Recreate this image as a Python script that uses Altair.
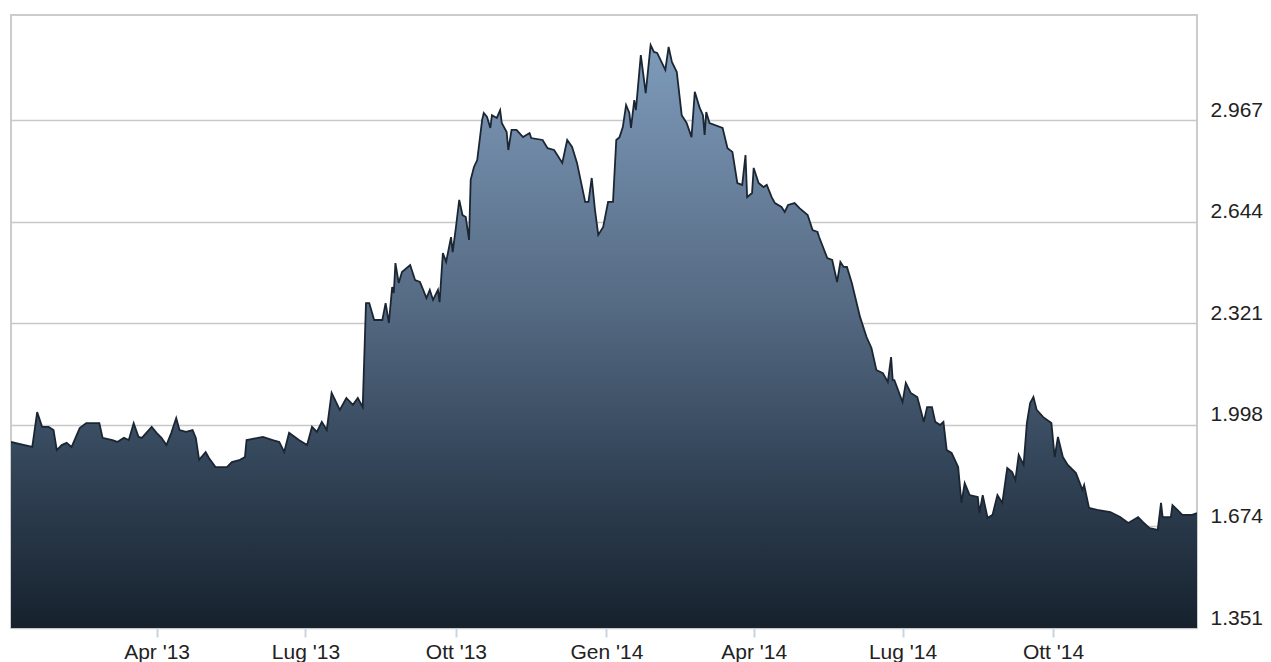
import altair as alt
import pandas as pd

dates = [
    "2013-01-02", "2013-01-07", "2013-01-15", "2013-01-18", "2013-01-21", "2013-01-25", "2013-01-28", "2013-01-30",
    "2013-02-02", "2013-02-05", "2013-02-08", "2013-02-13", "2013-02-17", "2013-02-25", "2013-02-27",
    "2013-03-05", "2013-03-08", "2013-03-12", "2013-03-15", "2013-03-18", "2013-03-21", "2013-03-23", "2013-03-29",
    "2013-04-01", "2013-04-04", "2013-04-07", "2013-04-10", "2013-04-13", "2013-04-15", "2013-04-19", "2013-04-23",
    "2013-04-25", "2013-04-27", "2013-05-01", "2013-05-03", "2013-05-07", "2013-05-14", "2013-05-17", "2013-05-22",
    "2013-05-25", "2013-05-26", "2013-05-29", "2013-06-05", "2013-06-11", "2013-06-15", "2013-06-18", "2013-06-21",
    "2013-06-27", "2013-07-02", "2013-07-05", "2013-07-08", "2013-07-11", "2013-07-14", "2013-07-17", "2013-07-22",
    "2013-07-26", "2013-07-30", "2013-08-02", "2013-08-05", "2013-08-07", "2013-08-09", "2013-08-12", "2013-08-17",
    "2013-08-19", "2013-08-21", "2013-08-23", "2013-08-24", "2013-08-25", "2013-08-27", "2013-08-29", "2013-09-03",
    "2013-09-06", "2013-09-09", "2013-09-13", "2013-09-15", "2013-09-17", "2013-09-20", "2013-09-21", "2013-09-23",
    "2013-09-25", "2013-09-28", "2013-09-29", "2013-10-01", "2013-10-03", "2013-10-05", "2013-10-07", "2013-10-09",
    "2013-10-10", "2013-10-12", "2013-10-14", "2013-10-17", "2013-10-18", "2013-10-20", "2013-10-22", "2013-10-23",
    "2013-10-26", "2013-10-28", "2013-10-29", "2013-11-01", "2013-11-02", "2013-11-04", "2013-11-07", "2013-11-11",
    "2013-11-15", "2013-11-16", "2013-11-23", "2013-11-26", "2013-11-30", "2013-12-05", "2013-12-08", "2013-12-11",
    "2013-12-14", "2013-12-19", "2013-12-21", "2013-12-23", "2013-12-25", "2013-12-27", "2013-12-30",
    "2014-01-02", "2014-01-05", "2014-01-07", "2014-01-09", "2014-01-11", "2014-01-13", "2014-01-15", "2014-01-16",
    "2014-01-18", "2014-01-19", "2014-01-22", "2014-01-25", "2014-01-28", "2014-01-30", "2014-02-01", "2014-02-06",
    "2014-02-08", "2014-02-10", "2014-02-13", "2014-02-16", "2014-02-19", "2014-02-22", "2014-02-24", "2014-02-27",
    "2014-03-01", "2014-03-02", "2014-03-03", "2014-03-05", "2014-03-13", "2014-03-16", "2014-03-19", "2014-03-22",
    "2014-03-25", "2014-03-27", "2014-03-28", "2014-03-31", "2014-04-01", "2014-04-04", "2014-04-07", "2014-04-09",
    "2014-04-12", "2014-04-14", "2014-04-18", "2014-04-20", "2014-04-22", "2014-04-26", "2014-04-29", "2014-05-04",
    "2014-05-07", "2014-05-10", "2014-05-11", "2014-05-16", "2014-05-19", "2014-05-22", "2014-05-24", "2014-05-26",
    "2014-05-28", "2014-05-31", "2014-06-05", "2014-06-09", "2014-06-12", "2014-06-15", "2014-06-19", "2014-06-22",
    "2014-06-24", "2014-06-25", "2014-06-26", "2014-07-01", "2014-07-03", "2014-07-06", "2014-07-10", "2014-07-14",
    "2014-07-16", "2014-07-19", "2014-07-21", "2014-07-24", "2014-07-26", "2014-07-28", "2014-07-31", "2014-08-04",
    "2014-08-06", "2014-08-08", "2014-08-11", "2014-08-16", "2014-08-17", "2014-08-19", "2014-08-22", "2014-08-25",
    "2014-08-28", "2014-08-31", "2014-09-03", "2014-09-06", "2014-09-08", "2014-09-10", "2014-09-13", "2014-09-15",
    "2014-09-17", "2014-09-19", "2014-09-21", "2014-09-25", "2014-09-30", "2014-10-02", "2014-10-04", "2014-10-07",
    "2014-10-10", "2014-10-15", "2014-10-19", "2014-10-20", "2014-10-23", "2014-10-28", "2014-11-05", "2014-11-11",
    "2014-11-16", "2014-11-22", "2014-11-25", "2014-11-29", "2014-12-04", "2014-12-06", "2014-12-07", "2014-12-12",
    "2014-12-13", "2014-12-16", "2014-12-19", "2014-12-25", "2014-12-28",
]

values = [
    1.943, 1.937, 1.927, 2.038, 1.991, 1.991, 1.981, 1.917,
    1.933, 1.940, 1.927, 1.987, 2.003, 2.003, 1.956,
    1.949, 1.943, 1.956, 1.949, 2.003, 1.959, 1.956, 1.991,
    1.972, 1.956, 1.933, 1.972, 2.019, 1.981, 1.975, 1.981,
    1.956, 1.886, 1.911, 1.892, 1.863, 1.863, 1.879, 1.886,
    1.895, 1.949, 1.952, 1.959, 1.949, 1.943, 1.911, 1.972,
    1.949, 1.933, 1.991, 1.975, 2.007, 1.981, 2.099, 2.045,
    2.083, 2.061, 2.083, 2.054, 2.385, 2.385, 2.331, 2.331,
    2.385, 2.322, 2.436, 2.417, 2.512, 2.449, 2.484, 2.506,
    2.458, 2.452, 2.401, 2.427, 2.395, 2.427, 2.388, 2.544,
    2.516, 2.595, 2.547, 2.627, 2.713, 2.665, 2.659, 2.586,
    2.777, 2.818, 2.840, 2.968, 2.990, 2.977, 2.942, 2.983,
    2.974, 2.999, 2.958, 2.929, 2.872, 2.936, 2.936, 2.913,
    2.926, 2.910, 2.904, 2.878, 2.872, 2.831, 2.904, 2.882,
    2.831, 2.707, 2.707, 2.783, 2.681, 2.602, 2.627,
    2.707, 2.707, 2.904, 2.913, 2.945, 3.015, 2.990, 2.942,
    3.031, 2.999, 3.174, 3.053, 3.206, 3.184, 3.181, 3.127,
    3.200, 3.152, 3.120, 2.983, 2.958, 2.913, 3.057, 3.006,
    2.983, 2.920, 2.993, 2.958, 2.942, 2.878, 2.866, 2.767,
    2.761, 2.856, 2.722, 2.735, 2.815, 2.767, 2.754, 2.761,
    2.722, 2.703, 2.691, 2.675, 2.697, 2.703, 2.687, 2.665,
    2.617, 2.611, 2.595, 2.528, 2.522, 2.452, 2.516, 2.500,
    2.500, 2.449, 2.341, 2.277, 2.242, 2.172, 2.162, 2.134,
    2.213, 2.140, 2.140, 2.070, 2.131, 2.099, 2.086, 2.007,
    2.054, 2.054, 2.007, 1.997, 2.007, 1.917, 1.908, 1.863,
    1.749, 1.812, 1.774, 1.768, 1.717, 1.774, 1.701, 1.711,
    1.774, 1.749, 1.860, 1.847, 1.822, 1.902, 1.870, 2.003,
    2.067, 2.086, 2.045, 2.022, 2.003, 1.895, 1.959, 1.895,
    1.870, 1.844, 1.790, 1.806, 1.733, 1.727, 1.720, 1.704,
    1.685, 1.704, 1.688, 1.669, 1.663, 1.749, 1.704, 1.704,
    1.742, 1.727, 1.711, 1.711, 1.717,
]

y_ticks = [1.351, 1.674, 1.998, 2.321, 2.644, 2.967]
y_domain = [1.351, 3.3016]
x_tick_dates = ["2013-04-01", "2013-07-01", "2013-10-01", "2014-01-01", "2014-04-01", "2014-07-01", "2014-10-01"]
month_names = ["Gen", "Feb", "Mar", "Apr", "Mag", "Giu", "Lug", "Ago", "Set", "Ott", "Nov", "Dic"]

df = pd.DataFrame({"date": dates, "value": values})

tick_values = [
    alt.DateTime(year=int(d[:4]), month=int(d[5:7]), date=int(d[8:10]), utc=True) for d in x_tick_dates
]
months_js = "[" + ",".join("'" + m + "'" for m in month_names) + "]"
label_expr = months_js + "[utcmonth(datum.value)] + \" '\" + utcFormat(datum.value, '%y')"

gradient = alt.Gradient(
    gradient="linear",
    stops=[
        alt.GradientStop(color="#7e9bbb", offset=0),
        alt.GradientStop(color="#566b84", offset=0.44),
        alt.GradientStop(color="#34465a", offset=0.71),
        alt.GradientStop(color="#16212d", offset=1),
    ],
    x1=0, x2=0, y1=0, y2=1,
)

chart = alt.Chart(df).mark_area(
    fill=gradient,
    opacity=1,
    fillOpacity=1,
    line={"color": "#1b2633", "strokeWidth": 1.8},
    clip=True,
).encode(
    x=alt.X(
        "date:T",
        scale=alt.Scale(type="utc"),
        axis=alt.Axis(
            values=tick_values,
            labelExpr=label_expr,
            title=None,
            grid=False,
            domain=False,
            ticks=True,
            tickSize=9,
            tickColor="#c8d4e0",
            tickWidth=2,
            labelPadding=4,
            labelFont="Liberation Sans",
            labelFontSize=21,
            labelColor="#222222",
        ),
    ),
    y=alt.Y(
        "value:Q",
        scale=alt.Scale(domain=y_domain, nice=False, zero=False),
        axis=alt.Axis(
            orient="right",
            values=y_ticks,
            format=".3f",
            title=None,
            grid=True,
            gridColor="#c8c8c8",
            gridWidth=1.5,
            domain=False,
            ticks=False,
            labelPadding=13,
            labelOffset=-4,
            labelBaseline="alphabetic",
            labelFont="Liberation Sans",
            labelFontSize=21,
            labelColor="#222222",
        ),
    ),
    y2=alt.Y2(datum=y_domain[0]),
).properties(
    width=1186,
    height=613,
    padding={"left": 3, "top": 7, "right": 0, "bottom": 0},
).configure_view(
    stroke="#cccccc",
    strokeWidth=2,
)

chart.save("out.html", embed_options={"renderer": "svg", "actions": False})
